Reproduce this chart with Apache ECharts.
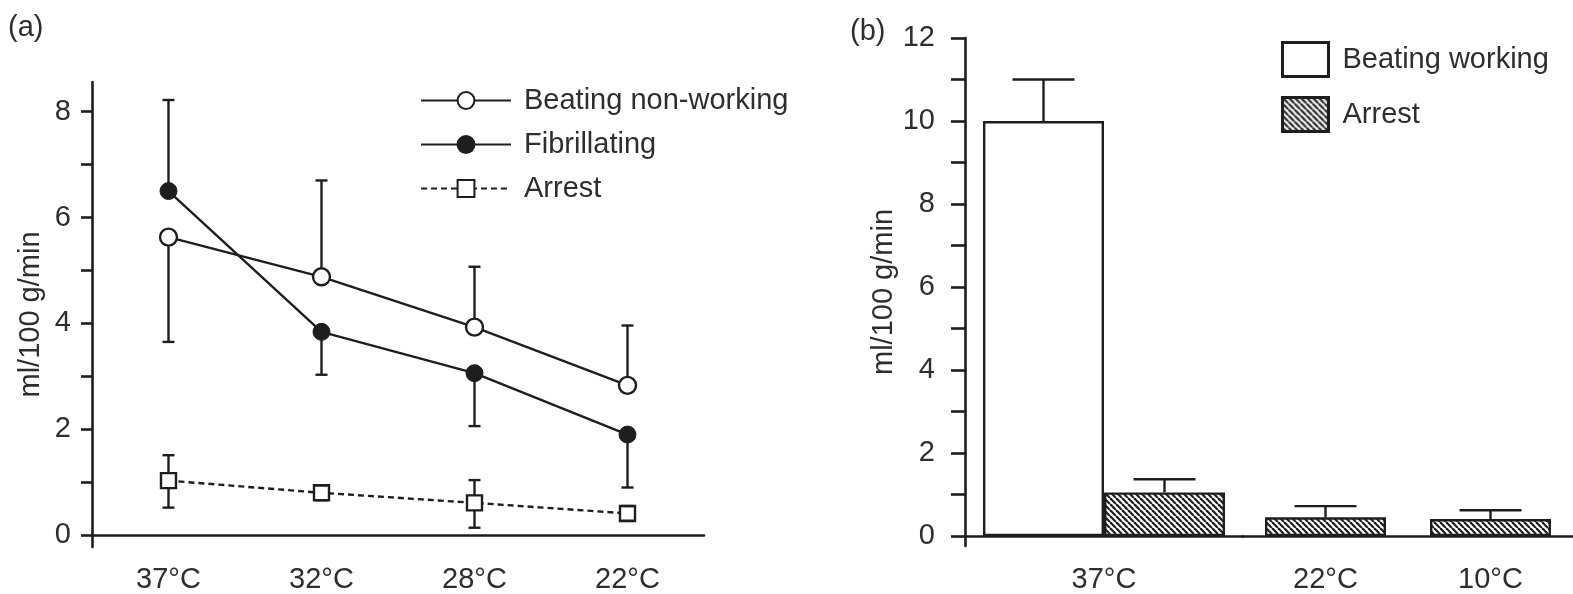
<!DOCTYPE html>
<html><head><meta charset="utf-8">
<script src="https://cdn.jsdelivr.net/npm/echarts@6/dist/echarts.min.js"></script>
<style>html,body{margin:0;padding:0;background:#fff}#c{width:1573px;height:594px}</style>
</head><body><div id="c"></div>
<script>
// ---------- data: panel (a) ----------
const tempsA = ['37°C', '32°C', '28°C', '22°C'];
const nonWorking = [5.63, 4.88, 3.93, 2.83];
const nonWorkingErrEnd = [3.65, 6.70, 5.07, 3.96];
const fibrillating = [6.50, 3.84, 3.06, 1.90];
const fibrillatingErrEnd = [8.22, 3.03, 2.06, 0.90];
const arrestA = [1.03, 0.80, 0.61, 0.41];
const arrestALow = [0.52, 0.66, 0.14, 0.27];
const arrestAHigh = [1.51, 0.94, 1.04, 0.55];
const yLabelsA = [0, 2, 4, 6, 8];
const yTicksA = [0, 1, 2, 3, 4, 5, 6, 7, 8];

// ---------- data: panel (b) ----------
const tempsB = ['37°C', '22°C', '10°C'];
const beatingWorking = [10.0];
const beatingWorkingErrEnd = [11.0];
const arrestB = [1.05, 0.45, 0.41];
const arrestBErrEnd = [1.37, 0.72, 0.62];
const yLabelsB = [0, 2, 4, 6, 8, 10, 12];
const yTicksB = [0, 1, 2, 3, 4, 5, 6, 7, 8, 9, 10, 11, 12];

const INK = '#1e1e1e';
const TXT = '#2e2e2e';
const FONT = '"Liberation Sans", Arial, sans-serif';
const FS = 29;
const BAR_W = 121;
const LW = 2.4;
const SQ = 15;

function hatch() {
  const s = 6;
  const c = document.createElement('canvas');
  c.width = s; c.height = s;
  const g = c.getContext('2d');
  g.fillStyle = '#fff'; g.fillRect(0, 0, s, s);
  g.strokeStyle = INK; g.lineWidth = 2.2;
  for (const x0 of [-s, 0, s]) {
    g.beginPath(); g.moveTo(x0, 0); g.lineTo(x0 + s, s); g.stroke();
  }
  return c;
}
const hatchFill = { image: hatch(), repeat: 'repeat' };

// error bar: dims [index, value, end1, (end2)]
function errorSeries(gridIdx, vals, ends, cap, offset, gap, z) {
  const data = vals.map((v, i) => [i, v].concat(ends.map(e => e[i])));
  return {
    type: 'custom', xAxisIndex: gridIdx, yAxisIndex: gridIdx, z: z || 1, silent: true,
    data: data,
    renderItem(params, api) {
      const i = api.value(0);
      const p = api.coord([i, api.value(1)]);
      const x = p[0] + (offset || 0);
      const children = [];
      for (let k = 2; k < 2 + ends.length; k++) {
        const q = api.coord([i, api.value(k)]);
        const dir = q[1] < p[1] ? -1 : 1;
        const y0 = p[1] + dir * (gap || 0);
        if ((q[1] - y0) * dir > 0) {
          children.push({ type: 'line', shape: { x1: x, y1: y0, x2: x, y2: q[1] }, style: { stroke: INK, lineWidth: LW } });
        }
        children.push({ type: 'line', shape: { x1: x - cap / 2, y1: q[1], x2: x + cap / 2, y2: q[1] }, style: { stroke: INK, lineWidth: LW } });
      }
      return { type: 'group', children };
    }
  };
}

const axisLineStyle = { color: INK, width: 2.6 };
const labelStyle = { fontSize: FS, color: TXT, fontFamily: FONT };

const option = {
  animation: false,
  backgroundColor: '#fff',
  title: [
    { text: '(a)', left: 8, top: 13, padding: 0, textStyle: { fontSize: FS, fontWeight: 'normal', color: TXT, fontFamily: FONT } },
    { text: '(b)', left: 850, top: 17, padding: 0, textStyle: { fontSize: FS, fontWeight: 'normal', color: TXT, fontFamily: FONT } }
  ],
  legend: [
    {
      data: ['Beating non-working', 'Fibrillating', 'Arrest'],
      orient: 'vertical', left: 415, top: 81, itemWidth: 90, itemHeight: 21, itemGap: 15,
      selectedMode: false,
      textStyle: { fontSize: FS, color: TXT, fontFamily: FONT, padding: [0, 0, 0, 8] }
    },
    {
      data: ['Beating working', 'Arrest (b)'],
      formatter: n => n.replace(' (b)', ''),
      orient: 'vertical', left: 1276, top: 36, itemWidth: 46, itemHeight: 34, itemGap: 18,
      icon: 'rect', selectedMode: false,
      itemStyle: { borderWidth: 3 },
      textStyle: { fontSize: FS, color: TXT, fontFamily: FONT, padding: [0, 0, 0, 9] }
    }
  ],
  grid: [
    { left: 92, top: 82, width: 612, height: 470 },
    { left: 965, top: 38, width: 278, height: 511 },
    { left: 1243, top: 38, right: 0, height: 511 }
  ],
  xAxis: [
    {
      type: 'category', gridIndex: 0, data: tempsA, boundaryGap: true,
      axisLine: { lineStyle: axisLineStyle },
      axisTick: { alignWithLabel: true, length: 11, lineStyle: axisLineStyle },
      axisLabel: Object.assign({ margin: 18 }, labelStyle)
    },
    {
      type: 'category', gridIndex: 1, data: tempsB.slice(0, 1), boundaryGap: true,
      axisLine: { lineStyle: axisLineStyle }, axisTick: { show: false },
      axisLabel: Object.assign({ margin: 19 }, labelStyle)
    },
    {
      type: 'category', gridIndex: 2, data: tempsB.slice(1), boundaryGap: true,
      axisLine: { lineStyle: axisLineStyle }, axisTick: { show: false },
      axisLabel: Object.assign({ margin: 19 }, labelStyle)
    }
  ],
  yAxis: [
    {
      type: 'value', gridIndex: 0, min: -0.224, max: 8.56,
      axisLine: { show: true, lineStyle: axisLineStyle },
      axisTick: { show: true, length: 11, lineStyle: axisLineStyle, customValues: yTicksA },
      axisLabel: Object.assign({ margin: 21, customValues: yLabelsA }, labelStyle),
      splitLine: { show: false },
      name: 'ml/100 g/min', nameLocation: 'middle', nameGap: 47,
      nameTextStyle: labelStyle
    },
    {
      type: 'value', gridIndex: 1, min: -0.24, max: 12,
      axisLine: { show: true, lineStyle: axisLineStyle },
      axisTick: { show: true, length: 14, lineStyle: axisLineStyle, customValues: yTicksB },
      axisLabel: Object.assign({ margin: 30, customValues: yLabelsB }, labelStyle),
      splitLine: { show: false },
      name: 'ml/100 g/min', nameLocation: 'middle', nameGap: 63,
      nameTextStyle: labelStyle
    },
    { type: 'value', gridIndex: 2, min: -0.24, max: 12, show: false, splitLine: { show: false } }
  ],
  series: [
    errorSeries(0, nonWorking, [nonWorkingErrEnd], 12),
    errorSeries(0, fibrillating, [fibrillatingErrEnd], 12),
    {
      type: 'line', name: 'Beating non-working', xAxisIndex: 0, yAxisIndex: 0, data: nonWorking, z: 3,
      symbol: 'circle', symbolSize: 17,
      lineStyle: { color: INK, width: LW },
      itemStyle: { color: '#fff', borderColor: INK, borderWidth: LW }
    },
    {
      type: 'line', name: 'Fibrillating', xAxisIndex: 0, yAxisIndex: 0, data: fibrillating, z: 3,
      symbol: 'circle', symbolSize: 17,
      lineStyle: { color: INK, width: LW },
      itemStyle: { color: INK, borderColor: INK, borderWidth: 1 }
    },
    {
      type: 'line', name: 'Arrest', xAxisIndex: 0, yAxisIndex: 0, data: arrestA, z: 3,
      symbol: 'rect', symbolSize: SQ,
      lineStyle: { color: INK, width: LW, type: [6, 4] },
      itemStyle: { color: '#fff', borderColor: INK, borderWidth: LW }
    },
    errorSeries(0, arrestA, [arrestALow, arrestAHigh], 12, 0, SQ / 2, 4),
    {
      type: 'bar', name: 'Beating working', xAxisIndex: 1, yAxisIndex: 1, data: beatingWorking,
      barWidth: BAR_W, barGap: '0%',
      itemStyle: { color: '#fff', borderColor: INK, borderWidth: LW }
    },
    {
      type: 'bar', name: 'Arrest (b)', xAxisIndex: 1, yAxisIndex: 1, data: arrestB.slice(0, 1),
      barWidth: BAR_W, barGap: '0%',
      itemStyle: { color: hatchFill, borderColor: INK, borderWidth: LW }
    },
    {
      type: 'bar', name: 'Arrest (b)', xAxisIndex: 2, yAxisIndex: 2, data: arrestB.slice(1),
      barWidth: BAR_W,
      itemStyle: { color: hatchFill, borderColor: INK, borderWidth: LW }
    },
    errorSeries(1, beatingWorking, [beatingWorkingErrEnd], 62, -BAR_W / 2),
    errorSeries(1, arrestB.slice(0, 1), [arrestBErrEnd.slice(0, 1)], 62, BAR_W / 2),
    errorSeries(2, arrestB.slice(1), [arrestBErrEnd.slice(1)], 62, 0)
  ]
};

const chart = echarts.init(document.getElementById('c'), null, { renderer: 'canvas' });
chart.setOption(option);
</script>
</body></html>
